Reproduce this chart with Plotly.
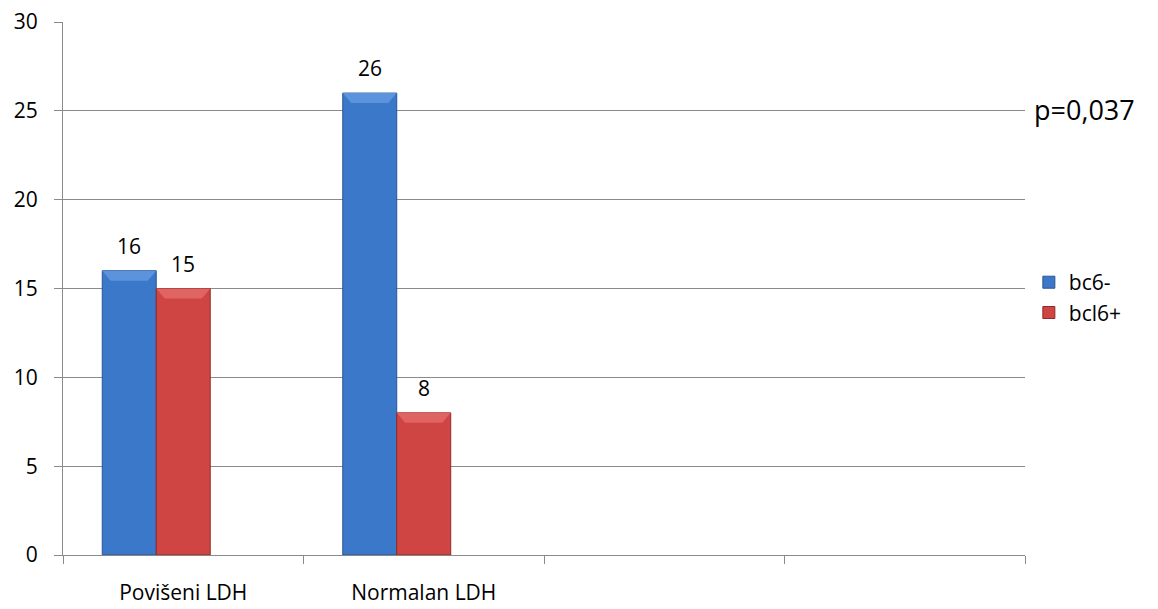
import plotly.graph_objects as go

# Patient counts by LDH level and BCL6 status
categories = ["Povišeni LDH", "Normalan LDH", " ", "  "]
bcl6_neg = [16, 26, None, None]
bcl6_pos = [15, 8, None, None]
series_names = ["bc6-", "bcl6+"]
p_value_label = "p=0,037"
y_ticks = [0, 5, 10, 15, 20, 25, 30]

FONT = "'Open Sans', sans-serif"
GRID = "#8a8a8a"
FS = 21

# bar fill, edge and bevel-highlight colours per series
fills = ["#3b78c9", "#cf4543"]
edges = ["#2a558f", "#8f2b2a"]
tops = ["#5b93dd", "#e06461"]

# each category slot holds three bar widths (third slot left empty)
bar_w = 0.2245
group_start = -0.3368
bevel_x = 0.035   # bevel inset in category units
bevel_px = 10     # bevel depth in pixels

fig = go.Figure()
series = [bcl6_neg, bcl6_pos]
for k, vals in enumerate(series):
    fig.add_bar(
        x=categories, y=vals, name=series_names[k],
        width=bar_w, offset=group_start + k * bar_w,
        marker=dict(color=fills[k], line=dict(color=edges[k], width=1)),
    )

for k, vals in enumerate(series):
    for i, v in enumerate(vals):
        if v is None:
            continue
        x0 = i + group_start + k * bar_w
        x1 = x0 + bar_w
        # lighter bevel face along the top of the bar
        fig.add_shape(
            type="path", xref="x", yref="y", ysizemode="pixel", yanchor=v,
            path=(f"M {x0},0 L {x1},0 L {x1 - bevel_x},{-bevel_px} "
                  f"L {x0 + bevel_x},{-bevel_px} Z"),
            fillcolor=tops[k], line=dict(width=0), layer="above",
        )
        # value label above the bar
        fig.add_annotation(
            x=(x0 + x1) / 2, y=v, xref="x", yref="y",
            text=str(v), showarrow=False, yanchor="middle", yshift=25,
            font=dict(family=FONT, size=21, color="#000000"),
        )

fig.add_annotation(
    x=1.0073, y=0.835, xref="paper", yref="paper", xanchor="left",
    yanchor="middle", text=p_value_label, showarrow=False,
    font=dict(family=FONT, size=27, color="#000000"),
)

fig.update_layout(
    width=1158, height=609,
    margin=dict(l=63, r=133, t=22, b=54, autoexpand=False),
    paper_bgcolor="white", plot_bgcolor="white",
    barmode="overlay",
    font=dict(family=FONT, size=FS, color="#000000"),
    showlegend=True,
    legend=dict(
        x=1.004, xanchor="left", y=0.483, yanchor="middle",
        font=dict(family=FONT, size=21), bgcolor="rgba(0,0,0,0)",
        tracegroupgap=0,
    ),
    xaxis=dict(
        type="category", categoryorder="array", categoryarray=categories,
        range=[-0.5, 3.5], tickson="boundaries", ticks="outside",
        ticklen=8, tickcolor=GRID, showline=True, linecolor=GRID,
        linewidth=1, showgrid=False, ticklabelstandoff=19,
        tickfont=dict(family=FONT, size=FS),
    ),
    yaxis=dict(
        range=[0, 30], tickvals=y_ticks, ticks="outside", ticklen=8,
        tickcolor=GRID, showline=True, linecolor=GRID, linewidth=1,
        showgrid=True, gridcolor=GRID, gridwidth=1, zeroline=False,
        ticklabelstandoff=12, tickfont=dict(family=FONT, size=21),
    ),
)

fig.write_html("out.html")
